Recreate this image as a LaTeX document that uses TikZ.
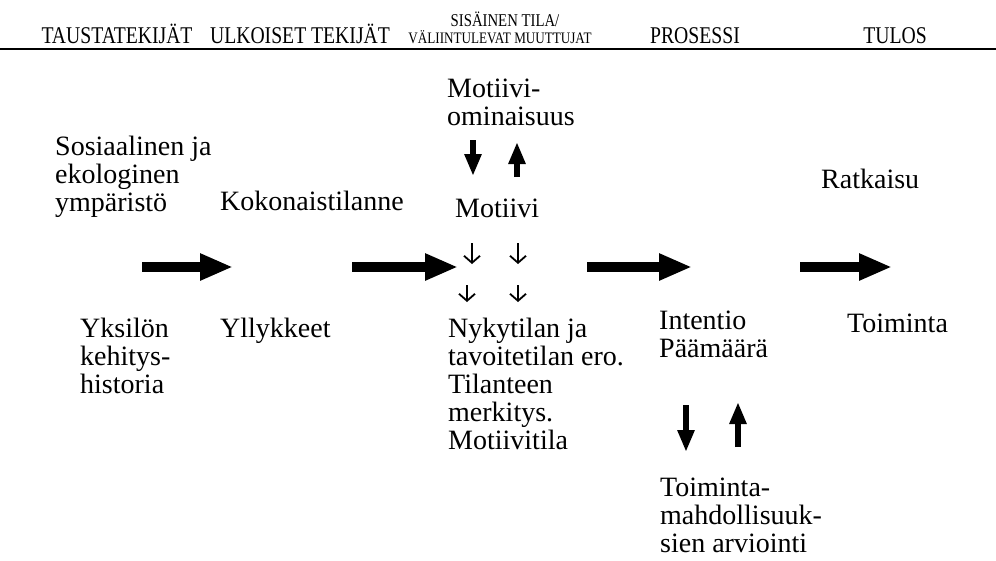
\documentclass[tikz,border=0pt]{standalone}
\usepackage{fontspec}
\setmainfont{Liberation Serif}
\newfontfamily\hdrfont[FakeStretch=0.82]{Liberation Serif}
\usetikzlibrary{arrows.meta}
\tikzset{
  txt/.style={anchor=north west,inner sep=0pt,align=left,font=\fontsize{28}{28}\selectfont},
  hdr/.style={anchor=base,inner sep=0pt,font=\hdrfont\fontsize{24}{24}\selectfont},
  hdrsmall/.style={anchor=base,inner sep=0pt,font=\hdrfont\fontsize{16}{16}\selectfont},
  bigarrow/.style={line width=10pt,-{Triangle[length=33pt,width=25pt]}},
  midarrow/.style={line width=6pt,-{Triangle[length=22pt,width=16pt]}},
  thinarrow/.style={line width=1.8pt,-{Straight Barb[length=7pt,width=16pt]}}
}
\begin{document}
\begin{tikzpicture}[x=1pt,y=-1pt]
\useasboundingbox (0,0) rectangle (996,560);
% header
\node[hdr] (taust) at (117,43) {TAUSTATEKIJÄT};
\node[hdr] (ulk) at (300,43) {ULKOISET TEKIJÄT};
\node[hdrsmall,font=\hdrfont\fontsize{18}{18}\selectfont] (sis) at (505,26) {SISÄINEN TILA/};
\node[hdrsmall] (val) at (500,43) {VÄLIINTULEVAT MUUTTUJAT};
\node[hdr] (pros) at (695,43) {PROSESSI};
\node[hdr] (tulos) at (895,43) {TULOS};
\draw[line width=2pt] (0,49) -- (996,49);
% texts
\node[txt] (sos) at (55,136) {Sosiaalinen ja\\ekologinen\\ympäristö};
\node[txt] (koko) at (220,191) {Kokonaistilanne};
\node[txt] (motom) at (447,79) {Motiivi-\\ominaisuus};
\node[txt] (moti) at (455,199) {Motiivi};
\node[txt] (ratk) at (821,169) {Ratkaisu};
\node[txt] (yks) at (80,318) {Yksilön\\kehitys-\\historia};
\node[txt] (yll) at (220,318) {Yllykkeet};
\node[txt] (nyky) at (448,318) {Nykytilan ja\\tavoitetilan ero.\\Tilanteen\\merkitys.\\Motiivitila};
\node[txt] (int) at (659,311) {Intentio\\Päämäärä};
\node[txt] (toim) at (847,314) {Toiminta};
\node[txt] (arv) at (660,478) {Toiminta-\\mahdollisuuk-\\sien arviointi};
% arrow ends
\coordinate (a1s) at (142,267); \coordinate (a1e) at (233,267);
\coordinate (a2s) at (352,267); \coordinate (a2e) at (458,267);
\coordinate (a3s) at (587,267); \coordinate (a3e) at (692,267);
\coordinate (a4s) at (800,267); \coordinate (a4e) at (892,267);
\coordinate (m1s) at (473,140); \coordinate (m1e) at (473,176);
\coordinate (m2s) at (517,177); \coordinate (m2e) at (517,142);
\coordinate (m3s) at (686,405); \coordinate (m3e) at (686,452);
\coordinate (m4s) at (738,447); \coordinate (m4e) at (738,402);
\coordinate (t1s) at (472,243); \coordinate (t1e) at (472,264);
\coordinate (t2s) at (518,243); \coordinate (t2e) at (518,264);
\coordinate (t3s) at (467,285); \coordinate (t3e) at (467,302);
\coordinate (t4s) at (518,285); \coordinate (t4e) at (518,302);
% arrows
\draw[bigarrow] (a1s) -- (a1e);
\draw[bigarrow] (a2s) -- (a2e);
\draw[bigarrow] (a3s) -- (a3e);
\draw[bigarrow] (a4s) -- (a4e);
\draw[midarrow] (m1s) -- (m1e);
\draw[midarrow] (m2s) -- (m2e);
\draw[midarrow] (m3s) -- (m3e);
\draw[midarrow] (m4s) -- (m4e);
\draw[thinarrow] (t1s) -- (t1e);
\draw[thinarrow] (t2s) -- (t2e);
\draw[thinarrow] (t3s) -- (t3e);
\draw[thinarrow] (t4s) -- (t4e);
\end{tikzpicture}
\end{document}
